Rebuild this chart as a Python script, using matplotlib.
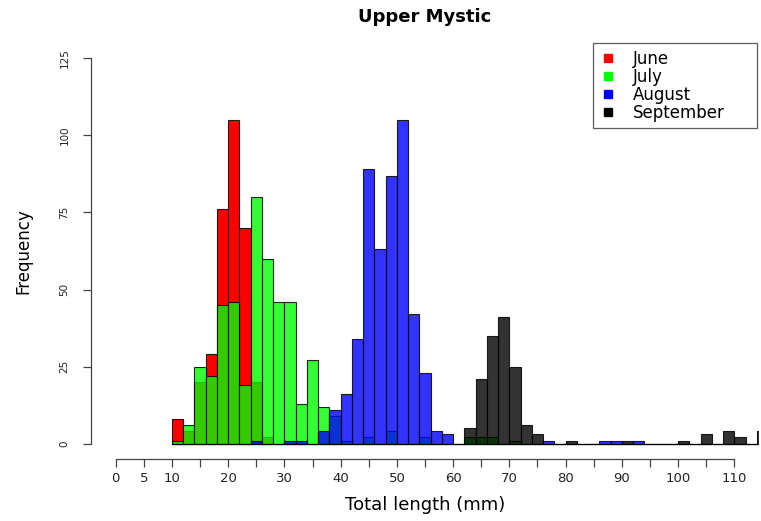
import numpy as np
import matplotlib
matplotlib.use('Agg')
import matplotlib.pyplot as plt
from matplotlib.lines import Line2D

plt.rcParams['font.family'] = ['DejaVu Sans']

# 2 mm bins, left edges 10..114
bin_left = np.arange(10, 116, 2)
june = [8, 4, 20, 29, 76, 105, 70, 20, 2, 0, 0, 0, 0, 0, 0, 0, 0, 0, 0, 0,
        0, 0, 0, 0, 0, 0, 0, 0, 0, 0, 0, 0, 0, 0, 0, 0, 0, 0, 0, 0,
        0, 0, 0, 0, 0, 0, 0, 0, 0, 0, 0, 0, 0]
july = [1, 6, 25, 22, 45, 46, 19, 80, 60, 46, 46, 13, 27, 12, 9, 1, 0, 2, 0, 4,
        0, 0, 2, 0, 0, 0, 2, 2, 2, 0, 1, 0, 0, 0, 0, 0, 0, 0, 0, 0,
        0, 0, 0, 0, 0, 0, 0, 0, 0, 0, 0, 0, 0]
august = [0, 0, 0, 0, 0, 0, 0, 1, 0, 0, 1, 1, 0, 4, 11, 16, 34, 89, 63, 87,
          105, 42, 23, 4, 3, 0, 0, 0, 0, 0, 0, 0, 0, 1, 0, 0, 0, 0, 1, 1,
          0, 1, 0, 0, 0, 0, 0, 0, 0, 0, 0, 0, 0]
september = [0, 0, 0, 0, 0, 0, 0, 0, 0, 0, 0, 0, 0, 0, 0, 0, 0, 0, 0, 0,
             0, 0, 0, 0, 0, 0, 5, 21, 35, 41, 25, 6, 3, 0, 0, 1, 0, 0, 0, 0,
             1, 0, 0, 0, 0, 1, 0, 3, 0, 4, 2, 0, 4]

months = ['June', 'July', 'August', 'September']
fills = [(1, 0, 0, 1), (0, 1, 0, 0.8), (0, 0, 1, 0.8), (0, 0, 0, 0.8)]
keys = ['red', '#00ff00', 'blue', 'black']

x_ticks = np.arange(0, 115, 5)
x_labels = ['0', '5', '10', '', '20', '', '30', '', '40', '', '50', '', '60', '',
            '70', '', '80', '', '90', '', '100', '', '110']
y_ticks = [0, 25, 50, 75, 100, 125]

fig = plt.figure(figsize=(7.61, 5.21), dpi=100)
ax = fig.add_axes([91/761, 62/521, 668/761, 416/521])

for counts, fc in zip([june, july, august, september], fills):
    ax.bar(bin_left, counts, width=2, align='edge', color=fc,
           edgecolor=(0, 0, 0, 0.85), linewidth=0.8)

ax.set_xlim(-4.4, 114.4)
ax.set_ylim(-5, 130)

for s in ['top', 'right']:
    ax.spines[s].set_visible(False)
ax.spines['left'].set_bounds(0, 125)
ax.spines['bottom'].set_bounds(0, 110)
for s in ['left', 'bottom']:
    ax.spines[s].set_color('#444444')
    ax.spines[s].set_linewidth(0.9)

ax.set_xticks(x_ticks)
ax.set_xticklabels(x_labels, fontsize=9.5)
ax.set_yticks(y_ticks)
ax.set_yticklabels([str(v) for v in y_ticks], fontsize=7.5, rotation=90, va='center')
ax.tick_params(axis='both', length=5.5, width=0.9, color='#444444', labelcolor='#222222')
ax.tick_params(axis='x', pad=4)
ax.tick_params(axis='y', pad=10)

ax.set_xlabel('Total length (mm)', fontsize=13)
ax.xaxis.set_label_coords(0.5, -0.09)
ax.set_ylabel('Frequency', fontsize=12)
ax.yaxis.set_label_coords(-0.088, 0.5)
ax.set_title('Upper Mystic', fontsize=13, weight='bold', pad=15)

handles = [Line2D([], [], ls='none', marker='s', markersize=6, color=c) for c in keys]
leg = ax.legend(handles, months, loc='upper left', bbox_to_anchor=(0.7515, 0.798, 0.2455, 0.202),
                mode='expand', fontsize=12, frameon=True, fancybox=False, borderaxespad=0,
                borderpad=0.4, handlelength=1.0, handletextpad=1.0, labelspacing=0.0)
leg.get_frame().set_edgecolor('#333333')
leg.get_frame().set_linewidth(0.9)

fig.savefig('out.png', dpi=100)
